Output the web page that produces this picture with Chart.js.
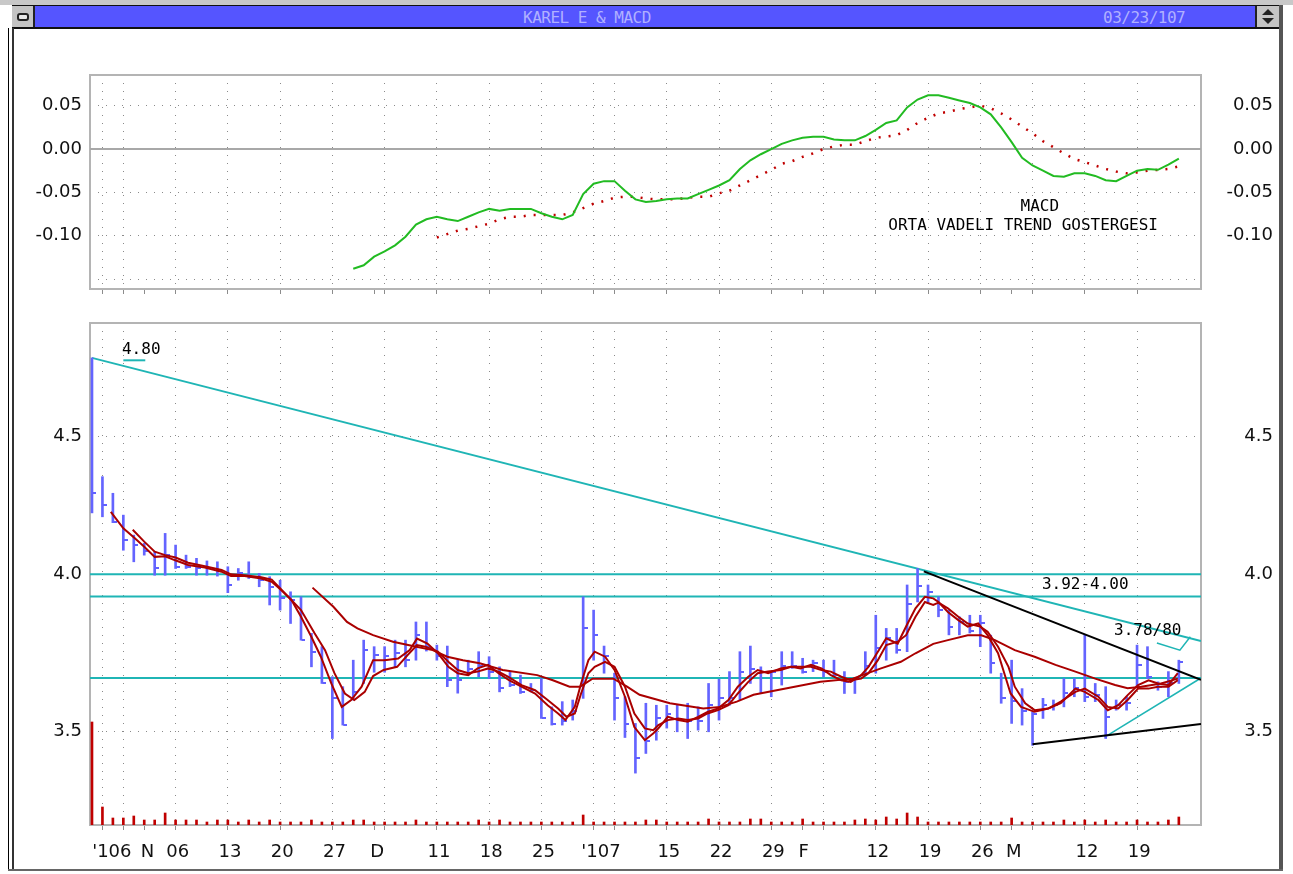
<!DOCTYPE html>
<html>
<head>
<meta charset="utf-8">
<script src="https://cdn.jsdelivr.net/npm/chart.js@4.4.1/dist/chart.umd.min.js"></script>
<style>
  body { margin: 0; width: 1293px; height: 874px; background: #fff; position: relative; overflow: hidden; }
  .abs { position: absolute; }
  #topstrip { left: 0; top: 0; width: 1293px; height: 5px; background: #c8c8c8; }
  #titlebar { left: 12px; top: 5px; width: 1268px; height: 21px; background: #5555ff; border-top: 1px solid #111; border-bottom: 2px solid #111; }
  #closebox { left: 12px; top: 6px; width: 21px; height: 21px; background: #c4c4c4; border-right: 2px solid #222; }
  #closebox div { position: absolute; left: 5px; top: 7px; width: 8px; height: 4px; border: 2px solid #222; border-radius: 3px; background: #e8e8e8; }
  #zoombox { left: 1255px; top: 6px; width: 22px; height: 21px; background: #c4c4c4; border-left: 2px solid #222; }
  #zoombox .up { position: absolute; left: 5px; top: 3px; border-left: 6px solid transparent; border-right: 6px solid transparent; border-bottom: 6px solid #222; }
  #zoombox .dn { position: absolute; left: 5px; top: 12px; border-left: 6px solid transparent; border-right: 6px solid transparent; border-top: 6px solid #222; }
  .title { top: 8px; font: 16px "DejaVu Sans Mono", monospace; color: #b0b0ff; letter-spacing: -0.5px; }
  #lf1 { left: 8px; top: 28px; width: 1px; height: 842px; background: #000; }
  #lf2 { left: 12px; top: 28px; width: 2px; height: 842px; background: #333; }
  #rf { left: 1279px; top: 5px; width: 4px; height: 866px; background: #555; }
  #bf { left: 8px; top: 869px; width: 1275px; height: 2px; background: #666; }
  canvas { position: absolute; left: 0; }
  #macd { top: 60px; }
  #price { top: 300px; }
</style>
</head>
<body>
<div class="abs" id="topstrip"></div>
<div class="abs" id="titlebar"></div>
<div class="abs" id="closebox"><div></div></div>
<div class="abs" id="zoombox"><div class="up"></div><div class="dn"></div></div>
<div class="abs title" style="left:523px">KAREL E &amp; MACD</div>
<div class="abs title" style="left:1103px">03/23/107</div>
<div class="abs" id="lf1"></div>
<div class="abs" id="lf2"></div>
<div class="abs" id="rf"></div>
<div class="abs" id="bf"></div>
<canvas id="macd" width="1293" height="240"></canvas>
<canvas id="price" width="1293" height="565"></canvas>
<script>
// trading-day index 0 = 20 Oct 2006 ... 104 = 23 Mar 2007
const xMin = -0.19;
const xMax = 106.12;

const gridIdx = [1, 3, 8, 13, 18, 23, 28, 33, 38, 43, 48, 50, 55, 60, 65, 70, 75, 80, 85, 90, 95, 100];
const monthIdx = [5, 27, 68, 88];
const labelPos = [1.9, 5.3, 8.2, 13.2, 18.2, 23.2, 27.3, 33.2, 38.2, 43.2, 48.7, 55.2, 60.2, 65.2, 68.1, 75.2, 80.2, 85.2, 88.2, 95.2, 100.2];
const labelText = ["'106", "N", "06", "13", "20", "27", "D", "11", "18", "25", "'107", "15", "22", "29", "F", "12", "19", "26", "M", "12", "19"];

const priceHigh = [4.81, 4.347, 4.286, 4.207, 4.136, 4.107, 4.078, 4.142, 4.101, 4.066,
  4.055, 4.046, 4.043, 4.026, 4.020, 4.043, 4.003, 3.992, 3.980, 3.941,
  3.924, 3.804, 3.761, 3.666, 3.635, 3.718, 3.782, 3.761, 3.761, 3.782,
  3.782, 3.841, 3.841, 3.766, 3.763, 3.718, 3.718, 3.745, 3.729, 3.697,
  3.682, 3.671, 3.645, 3.660, 3.573, 3.589, 3.594, 3.924, 3.880, 3.763,
  3.677, 3.604, 3.523, 3.584, 3.578, 3.578, 3.578, 3.584, 3.573, 3.645,
  3.658, 3.682, 3.745, 3.763, 3.697, 3.682, 3.745, 3.745, 3.724, 3.718,
  3.718, 3.718, 3.682, 3.660, 3.745, 3.863, 3.820, 3.820, 3.964, 4.020,
  3.964, 3.924, 3.880, 3.858, 3.863, 3.863, 3.798, 3.677, 3.718, 3.629,
  3.558, 3.599, 3.594, 3.660, 3.660, 3.798, 3.645, 3.635, 3.594, 3.604,
  3.766, 3.761, 3.650, 3.682, 3.718];
const priceLow = [4.215, 4.201, 4.180, 4.083, 4.043, 4.066, 3.997, 3.997, 4.020, 4.020,
  3.997, 3.997, 3.994, 3.938, 3.980, 3.986, 3.958, 3.897, 3.880, 3.836,
  3.782, 3.697, 3.645, 3.478, 3.518, 3.594, 3.645, 3.680, 3.680, 3.697,
  3.697, 3.718, 3.747, 3.718, 3.635, 3.615, 3.671, 3.666, 3.660, 3.619,
  3.635, 3.614, 3.619, 3.538, 3.518, 3.518, 3.533, 3.599, 3.718, 3.677,
  3.533, 3.481, 3.377, 3.434, 3.473, 3.509, 3.498, 3.478, 3.503, 3.498,
  3.533, 3.578, 3.594, 3.645, 3.614, 3.604, 3.640, 3.692, 3.677, 3.682,
  3.666, 3.666, 3.614, 3.614, 3.671, 3.677, 3.718, 3.740, 3.745, 3.907,
  3.903, 3.858, 3.799, 3.799, 3.805, 3.761, 3.677, 3.584, 3.523, 3.518,
  3.458, 3.538, 3.563, 3.573, 3.604, 3.589, 3.589, 3.478, 3.563, 3.563,
  3.635, 3.660, 3.624, 3.604, 3.645];
const priceClose = [4.286, 4.243, 4.183, 4.118, 4.101, 4.080, 4.020, 4.066, 4.026, 4.026,
  4.020, 4.020, 4.010, 3.964, 4.003, 3.992, 3.980, 3.958, 3.920, 3.914,
  3.782, 3.745, 3.647, 3.599, 3.518, 3.619, 3.750, 3.735, 3.730, 3.740,
  3.720, 3.800, 3.760, 3.730, 3.655, 3.655, 3.690, 3.700, 3.680, 3.630,
  3.640, 3.620, 3.625, 3.540, 3.520, 3.530, 3.560, 3.820, 3.800, 3.730,
  3.600, 3.520, 3.420, 3.470, 3.539, 3.550, 3.533, 3.530, 3.530, 3.580,
  3.600, 3.600, 3.680, 3.690, 3.680, 3.680, 3.700, 3.700, 3.680, 3.710,
  3.680, 3.670, 3.650, 3.660, 3.700, 3.756, 3.790, 3.750, 3.900, 3.960,
  3.940, 3.880, 3.826, 3.840, 3.810, 3.836, 3.708, 3.600, 3.590, 3.560,
  3.550, 3.578, 3.578, 3.614, 3.630, 3.604, 3.610, 3.543, 3.578, 3.584,
  3.702, 3.666, 3.635, 3.645, 3.713];
const volume = [103, 18, 7, 7, 9, 5, 5, 12, 5, 5,
  5, 3, 5, 5, 3, 5, 3, 5, 3, 3,
  3, 5, 3, 3, 3, 5, 5, 3, 3, 3,
  3, 5, 3, 3, 3, 3, 3, 5, 3, 5,
  3, 3, 3, 3, 3, 3, 3, 10, 3, 3,
  3, 3, 3, 5, 5, 3, 3, 3, 3, 6,
  3, 3, 3, 6, 6, 3, 3, 3, 6, 3,
  3, 3, 3, 5, 6, 5, 8, 6, 12, 8,
  3, 3, 3, 3, 3, 3, 3, 3, 7, 3,
  3, 3, 3, 5, 3, 5, 3, 5, 3, 3,
  5, 3, 3, 5, 8];

const maFast = [[1.8, 4.219], [3.0, 4.160], [4.1, 4.125], [5.0, 4.095], [6.0, 4.060], [7.0, 4.062], [7.9, 4.049], [9.2, 4.032], [10.8, 4.023], [12.4, 4.009], [13.3, 3.994], [14.6, 3.994], [16.2, 3.986], [17.2, 3.975], [18.1, 3.947], [19.1, 3.913], [20.0, 3.858], [21.0, 3.792], [21.9, 3.729], [22.9, 3.645], [23.9, 3.573], [24.8, 3.594], [25.8, 3.635], [26.9, 3.718], [28.0, 3.718], [29.3, 3.723], [30.4, 3.750], [31.1, 3.787], [32.1, 3.771], [33.1, 3.740], [34.1, 3.697], [35.0, 3.677], [36.0, 3.671], [36.9, 3.692], [37.9, 3.703], [38.9, 3.677], [39.9, 3.655], [41.1, 3.635], [42.4, 3.614], [43.6, 3.578], [44.6, 3.553], [45.3, 3.533], [46.2, 3.573], [46.8, 3.645], [47.5, 3.718], [48.1, 3.745], [49.1, 3.729], [50.0, 3.687], [51.0, 3.604], [51.9, 3.512], [52.9, 3.473], [53.7, 3.493], [54.2, 3.508], [55.1, 3.543], [56.1, 3.533], [57.0, 3.528], [58.0, 3.543], [58.9, 3.558], [59.9, 3.568], [60.9, 3.594], [61.8, 3.635], [62.8, 3.666], [63.7, 3.687], [64.7, 3.677], [65.9, 3.692], [66.9, 3.697], [67.8, 3.692], [68.8, 3.703], [69.8, 3.692], [70.7, 3.671], [71.7, 3.655], [72.6, 3.650], [73.6, 3.671], [74.3, 3.697], [75.2, 3.745], [76.0, 3.788], [77.1, 3.771], [77.9, 3.826], [78.8, 3.886], [79.7, 3.924], [80.5, 3.919], [81.0, 3.907], [81.9, 3.874], [82.9, 3.847], [83.8, 3.826], [84.8, 3.836], [85.7, 3.798], [86.7, 3.740], [87.4, 3.666], [87.9, 3.614], [88.9, 3.573], [90.2, 3.558], [91.5, 3.568], [92.7, 3.584], [94.1, 3.629], [95.0, 3.619], [96.3, 3.594], [97.2, 3.563], [98.2, 3.578], [99.1, 3.609], [100.1, 3.640], [101.1, 3.655], [102.0, 3.645], [103.0, 3.640], [103.9, 3.677]];
const maMid = [[3.9, 4.155], [5.0, 4.113], [6.0, 4.078], [7.0, 4.066], [8.0, 4.058], [9.2, 4.040], [10.8, 4.028], [12.4, 4.015], [13.3, 4.000], [14.6, 3.997], [16.2, 3.990], [17.2, 3.982], [18.8, 3.924], [20.0, 3.880], [21.3, 3.804], [22.3, 3.750], [23.2, 3.677], [24.2, 3.614], [25.1, 3.594], [26.1, 3.619], [26.9, 3.668], [27.9, 3.687], [29.2, 3.697], [30.2, 3.734], [31.1, 3.766], [31.9, 3.761], [33.1, 3.745], [34.1, 3.713], [35.0, 3.687], [36.0, 3.677], [36.9, 3.682], [37.9, 3.692], [38.9, 3.682], [39.8, 3.666], [41.1, 3.640], [42.4, 3.624], [43.6, 3.594], [44.6, 3.568], [45.4, 3.543], [46.2, 3.553], [46.8, 3.614], [47.5, 3.677], [48.1, 3.697], [49.1, 3.713], [50.0, 3.697], [51.0, 3.635], [51.9, 3.553], [52.9, 3.508], [53.7, 3.503], [54.2, 3.518], [55.1, 3.533], [56.1, 3.538], [57.0, 3.533], [58.0, 3.538], [58.9, 3.553], [59.9, 3.563], [60.9, 3.578], [61.8, 3.614], [62.8, 3.650], [63.7, 3.677], [64.7, 3.682], [65.9, 3.687], [66.9, 3.697], [67.8, 3.697], [68.8, 3.697], [69.8, 3.687], [70.7, 3.682], [71.7, 3.666], [72.6, 3.655], [73.6, 3.660], [74.3, 3.677], [75.2, 3.718], [76.0, 3.766], [77.1, 3.777], [77.9, 3.798], [78.8, 3.858], [79.7, 3.907], [80.5, 3.897], [81.0, 3.905], [81.9, 3.886], [82.9, 3.858], [83.8, 3.836], [85.0, 3.826], [85.7, 3.809], [86.7, 3.761], [87.7, 3.697], [88.3, 3.635], [89.3, 3.584], [90.2, 3.563], [91.5, 3.568], [92.7, 3.589], [94.1, 3.619], [95.0, 3.629], [96.3, 3.604], [97.2, 3.573], [98.2, 3.568], [99.1, 3.594], [100.1, 3.629], [101.1, 3.629], [102.0, 3.635], [103.0, 3.635], [103.9, 3.655]];
const maSlow = [[21.1, 3.955], [23.1, 3.891], [24.4, 3.841], [25.4, 3.820], [26.9, 3.798], [28.8, 3.777], [30.7, 3.763], [32.6, 3.750], [34.0, 3.729], [35.5, 3.718], [37.1, 3.708], [39.3, 3.687], [42.6, 3.671], [44.1, 3.655], [45.7, 3.635], [46.7, 3.635], [47.9, 3.660], [49.9, 3.660], [51.2, 3.635], [52.4, 3.610], [55.3, 3.584], [58.5, 3.568], [60.1, 3.573], [61.7, 3.589], [63.3, 3.610], [66.5, 3.630], [69.7, 3.650], [72.8, 3.660], [75.5, 3.692], [77.4, 3.713], [78.8, 3.740], [80.5, 3.770], [81.9, 3.782], [83.8, 3.798], [85.1, 3.798], [86.4, 3.782], [88.3, 3.750], [90.2, 3.729], [92.2, 3.703], [94.1, 3.682], [96.0, 3.660], [97.9, 3.640], [99.1, 3.630], [100.4, 3.635], [102.3, 3.645], [103.9, 3.660]];

// trend lines drawn on the price panel
const cyanLines = [
  [[0, 4.81], [106.12, 3.779]],
  [[-0.19, 4.00], [106.12, 4.00]],
  [[-0.19, 3.925], [106.12, 3.925]],
  [[-0.19, 3.662], [106.12, 3.662]],
  [[3.0, 4.80], [5.1, 4.80]]
];
const cyanThin = [
  [[96.9, 3.482], [106.12, 3.662]],
  [[101.9, 3.773], [104.1, 3.750], [105.1, 3.793]]
];
const blackLines = [
  [[79.6, 4.01], [106.12, 3.656]],
  [[90.0, 3.461], [106.12, 3.521]]
];

const macdStart = 25;
const macdLine = [-0.138, -0.134, -0.124, -0.118, -0.111, -0.101, -0.087, -0.081, -0.078, -0.081,
  -0.083, -0.078, -0.073, -0.069, -0.071, -0.069, -0.069, -0.069, -0.074, -0.078,
  -0.081, -0.076, -0.052, -0.040, -0.037, -0.037, -0.048, -0.058, -0.061, -0.060,
  -0.058, -0.057, -0.057, -0.052, -0.047, -0.042, -0.036, -0.023, -0.013, -0.006,
  0.000, 0.006, 0.010, 0.013, 0.014, 0.014, 0.011, 0.010, 0.010, 0.015,
  0.022, 0.030, 0.033, 0.048, 0.057, 0.062, 0.062, 0.059, 0.056, 0.053,
  0.048, 0.040, 0.025, 0.008, -0.010, -0.019, -0.025, -0.031, -0.032, -0.028,
  -0.028, -0.031, -0.036, -0.037, -0.031, -0.025, -0.023, -0.024, -0.018, -0.011];
const signalStart = 33;
const signalLine = [-0.102, -0.098, -0.094, -0.092, -0.089, -0.086, -0.081, -0.078, -0.078, -0.076,
  -0.076, -0.076, -0.076, -0.073, -0.068, -0.063, -0.060, -0.056, -0.055, -0.055,
  -0.057, -0.058, -0.058, -0.058, -0.056, -0.055, -0.055, -0.051, -0.048, -0.042,
  -0.036, -0.030, -0.024, -0.017, -0.014, -0.009, -0.005, 0.000, 0.003, 0.005,
  0.005, 0.009, 0.013, 0.0145, 0.016, 0.022, 0.030, 0.036, 0.041, 0.043,
  0.046, 0.048, 0.050, 0.047, 0.041, 0.034, 0.026, 0.018, 0.009, 0.002,
  -0.005, -0.0115, -0.015, -0.019, -0.023, -0.026, -0.028, -0.027, -0.025, -0.024,
  -0.023, -0.020];
const macdTicks = [-0.15, -0.10, -0.05, 0, 0.05];
const priceTicks = [3.5, 4.0, 4.5];

const macdNotes = [
  { x: 90.7, y: -0.0665, text: 'MACD', align: 'center' },
  { x: 89.1, y: -0.0884, text: 'ORTA VADELI TREND GOSTERGESI', align: 'center' }
];
const priceNotes = [
  { x: 2.87, y: 4.842, text: '4.80' },
  { x: 90.9, y: 3.964, text: '3.92-4.00' },
  { x: 97.8, y: 3.811, text: '3.78/80' }
];

Chart.defaults.animation = false;
Chart.defaults.font.family = 'DejaVu Sans';
Chart.defaults.font.size = 18;
Chart.defaults.color = '#111';

const GRID = '#8a8a8a';
const near = (arr, v) => arr.some(a => Math.abs(a - v) < 1e-6);
const pts = arr => arr.map(p => ({ x: p[0], y: p[1] }));
const tickVal = c => (c.tick ? c.tick.value : NaN);

const frame = {
  id: 'frame',
  beforeDatasetsDraw(chart) {
    const a = chart.chartArea, ctx = chart.ctx;
    ctx.save();
    ctx.strokeStyle = '#b4b4b4';
    ctx.lineWidth = 2;
    ctx.strokeRect(a.left, a.top, a.right - a.left, a.bottom - a.top);
    ctx.restore();
  }
};
const notes = {
  id: 'notes',
  afterDatasetsDraw(chart, args, opts) {
    const ctx = chart.ctx;
    ctx.save();
    ctx.font = '16px "DejaVu Sans Mono"';
    ctx.fillStyle = '#000';
    ctx.textBaseline = 'middle';
    opts.items.forEach(n => {
      ctx.textAlign = n.align || 'left';
      ctx.fillText(n.text, chart.scales.x.getPixelForValue(n.x), chart.scales.y.getPixelForValue(n.y));
    });
    ctx.restore();
  }
};

function xAxis(height, showLabels) {
  return {
    type: 'linear', min: xMin, max: xMax, offset: false,
    afterBuildTicks: s => {
      s.ticks = [...gridIdx, ...monthIdx, ...(showLabels ? labelPos : [])].sort((a, b) => a - b).map(v => ({ value: v }));
    },
    afterFit: s => { s.height = height; s.paddingLeft = 0; s.paddingRight = 0; },
    grid: {
      offset: false,
      color: c => near(gridIdx, tickVal(c)) ? GRID : 'transparent',
      tickColor: c => near(gridIdx, tickVal(c)) || near(monthIdx, tickVal(c)) ? '#8c8c8c' : 'transparent',
      tickLength: 5
    },
    border: { display: false, dash: [1, 7] },
    ticks: {
      display: showLabels, autoSkip: false, maxRotation: 0, padding: 12,
      callback: v => {
        const k = labelPos.findIndex(p => Math.abs(p - v) < 1e-6);
        return k < 0 ? '' : labelText[k];
      }
    }
  };
}

function yAxes(type, min, max, tickVals, fmt) {
  const common = {
    type, min, max, bounds: 'data',
    afterBuildTicks: s => { s.ticks = tickVals.map(v => ({ value: v })); }
  };
  return {
    y: Object.assign({}, common, {
      position: 'left',
      afterFit: s => { s.width = 90; s.paddingTop = 0; s.paddingBottom = 0; },
      grid: { color: GRID, drawTicks: false },
      border: { display: false, dash: [1, 7] },
      ticks: { padding: 8, callback: fmt }
    }),
    y2: Object.assign({}, common, {
      position: 'right',
      afterFit: s => { s.width = 72; s.paddingTop = 0; s.paddingBottom = 0; },
      grid: { display: false, drawTicks: false },
      border: { display: false },
      ticks: { crossAlign: 'far', callback: fmt }
    })
  };
}

// MACD panel
new Chart(document.getElementById('macd'), {
  type: 'line',
  data: {
    datasets: [
      {
        label: 'MACD', data: macdLine.map((v, k) => ({ x: macdStart + k, y: v })),
        borderColor: '#22bb22', borderWidth: 2, pointRadius: 0
      },
      {
        label: 'Signal', data: signalLine.map((v, k) => ({ x: signalStart + k, y: v })),
        borderColor: '#c00000', borderWidth: 2.5, borderDash: [2, 8], pointRadius: 0
      },
      {
        label: 'zero', data: [{ x: xMin, y: 0 }, { x: xMax, y: 0 }],
        borderColor: '#a8a8a8', borderWidth: 2, pointRadius: 0
      }
    ]
  },
  options: {
    responsive: false,
    layout: { padding: { top: 15, right: 20, left: 0, bottom: 0 } },
    plugins: { legend: { display: false }, tooltip: { enabled: false }, notes: { items: macdNotes } },
    scales: Object.assign({ x: xAxis(11, false) },
      yAxes('linear', -0.1613, 0.0853, macdTicks, v => Math.abs(v + 0.15) < 1e-6 ? '' : v.toFixed(2)))
  },
  plugins: [frame, notes]
});

// close tick marker: small dash to the right of each bar
const tick = document.createElement('canvas');
tick.width = 9; tick.height = 2;
const tctx = tick.getContext('2d');
tctx.fillStyle = '#6060ff';
tctx.fillRect(5, 0, 4, 2);

const priceSets = [
  { type: 'line', data: pts(maFast), borderColor: '#aa0000', borderWidth: 2, pointRadius: 0, order: 0 },
  { type: 'line', data: pts(maMid), borderColor: '#aa0000', borderWidth: 2, pointRadius: 0, order: 0 },
  { type: 'line', data: pts(maSlow), borderColor: '#aa0000', borderWidth: 2, pointRadius: 0, order: 0 }
];
blackLines.forEach(l => priceSets.push({ type: 'line', data: pts(l), borderColor: '#000', borderWidth: 2, pointRadius: 0, order: 1 }));
priceSets.push({
  type: 'line', data: priceClose.map((v, i) => ({ x: i, y: v })), showLine: false,
  pointStyle: tick, pointRadius: 3, order: 2
});
priceSets.push({
  type: 'bar', data: priceHigh.map((h, i) => ({ x: i, y: [priceLow[i], h] })),
  backgroundColor: '#6464ff', barThickness: 2, grouped: false, order: 3
});
cyanLines.forEach(l => priceSets.push({ type: 'line', data: pts(l), borderColor: '#1fb5b5', borderWidth: 2, pointRadius: 0, order: 4 }));
cyanThin.forEach(l => priceSets.push({ type: 'line', data: pts(l), borderColor: '#1fb5b5', borderWidth: 1.5, pointRadius: 0, order: 4 }));
priceSets.push({
  type: 'bar', data: volume.map((v, i) => ({ x: i, y: v })), yAxisID: 'yv',
  backgroundColor: '#c00000', barThickness: 2, grouped: false, order: 5
});

const priceScales = Object.assign({ x: xAxis(40, true) },
  yAxes('logarithmic', 3.231, 4.955, priceTicks, v => Number(v).toFixed(1)));
priceScales.yv = { type: 'linear', display: false, min: 0, max: 502 };

// price panel
new Chart(document.getElementById('price'), {
  type: 'line',
  data: { datasets: priceSets },
  options: {
    responsive: false,
    layout: { padding: { top: 23, right: 20, left: 0, bottom: 0 } },
    plugins: { legend: { display: false }, tooltip: { enabled: false }, notes: { items: priceNotes } },
    scales: priceScales
  },
  plugins: [frame, notes]
});
</script>
</body>
</html>
